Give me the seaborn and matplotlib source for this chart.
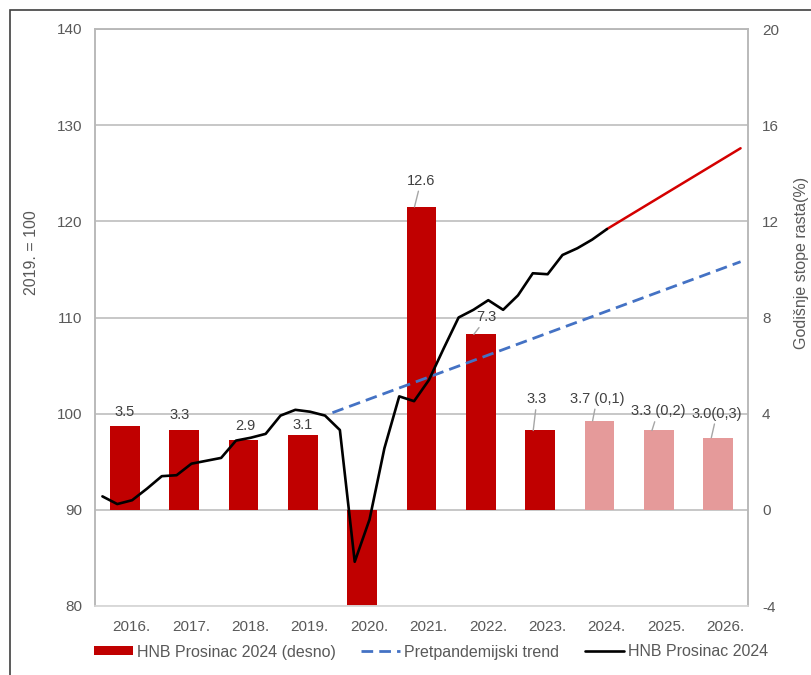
import matplotlib
matplotlib.use("Agg")
import matplotlib.pyplot as plt
from matplotlib.patches import Patch, Rectangle
from matplotlib.lines import Line2D
from matplotlib.ticker import FixedLocator
from matplotlib.transforms import ScaledTranslation
import seaborn as sns
import pandas as pd
import numpy as np

# ---------------- data ----------------
years = ["2016.", "2017.", "2018.", "2019.", "2020.", "2021.",
         "2022.", "2023.", "2024.", "2025.", "2026."]
growth = [3.5, 3.3, 2.9, 3.1, -8.5, 12.6, 7.3, 3.3, 3.7, 3.3, 3.0]
is_forecast = [False] * 8 + [True] * 3
bar_labels = ["3.5", "3.3", "2.9", "3.1", "", "12.6", "7.3", "3.3",
              "3.7 (0,1)", "3.3 (0,2)", "3.0(0,3)"]

# quarterly index (2019 = 100), 2016Q1 .. 2024Q3
index_quarters = [f"{y}Q{q}" for y in range(2016, 2025) for q in range(1, 5)][:35]
index_vals = [91.4, 90.6, 91.0, 92.2,
              93.5, 93.6, 94.8, 95.1,
              95.4, 97.2, 97.5, 97.9,
              99.8, 100.4, 100.2, 99.8,
              98.3, 84.6, 89.0, 96.4,
              101.8, 101.3, 103.5, 106.8,
              110.0, 110.8, 111.8, 110.8,
              112.3, 114.6, 114.5, 116.5,
              117.2, 118.1, 119.2]

# projection (red), from 2024Q3 to 2026Q4
proj_quarters = ["2024Q3", "2026Q4"]
proj_vals = [119.2, 127.6]

# pre-pandemic trend, from end of 2019 to 2026Q4
trend_quarters = ["2019Q4.5", "2026Q4"]
trend_vals = [100.1, 115.8]

legend_labels = ["HNB Prosinac 2024 (desno)", "Pretpandemijski trend", "HNB Prosinac 2024"]

# ---------------- helpers ----------------
def qpos(label):
    y, q = label.split("Q")
    return (int(y) - 2016) - 0.5 + (float(q) - 0.5) / 4.0

# ---------------- style ----------------
sns.set_theme(style="white")
plt.rcParams["font.family"] = ["Liberation Sans", "DejaVu Sans"]
plt.rcParams["axes.unicode_minus"] = False
TXT = "#595959"
GRID = "#b8b8b8"
RED = "#C00000"
PINK = "#E59A9A"

W, H = 812, 675
fig = plt.figure(figsize=(W / 100, H / 100), dpi=100)
L, R, T, B = 95, 748, 29, 606
ax = fig.add_axes([L / W, 1 - B / H, (R - L) / W, (B - T) / H])
ax2 = ax.twinx()

# bars on the right axis
bar_df = pd.DataFrame({"year": years, "growth": growth})
colors = [PINK if f else RED for f in is_forecast]
sns.barplot(data=bar_df, x="year", y="growth", hue="year", palette=colors,
            width=0.5, saturation=1, linewidth=0, legend=False, ax=ax2)

# lines on the left axis, drawn above bars
ax.set_zorder(ax2.get_zorder() + 1)
ax.patch.set_visible(False)

idx_df = pd.DataFrame({"x": [qpos(q) for q in index_quarters], "y": index_vals})
proj_df = pd.DataFrame({"x": [qpos(q) for q in proj_quarters], "y": proj_vals})
tr_df = pd.DataFrame({"x": [qpos(q) for q in trend_quarters], "y": trend_vals})

sns.lineplot(data=tr_df, x="x", y="y", ax=ax, color="#4472C4", lw=2.0,
             dashes=False, sort=False)
ax.lines[-1].set_dashes((4.2, 2.2))
sns.lineplot(data=proj_df, x="x", y="y", ax=ax, color="#D40000", lw=1.8, sort=False)
sns.lineplot(data=idx_df, x="x", y="y", ax=ax, color="black", lw=1.9, sort=False)

# axes limits / ticks
ax.set_xlim(-0.5, 10.5)
ax.set_ylim(80, 140)
ax2.set_ylim(-4, 20)
ax.set_yticks([80, 90, 100, 110, 120, 130, 140])
ax2.set_yticks([-4, 0, 4, 8, 12, 16, 20])
ax.xaxis.set_major_locator(FixedLocator(list(range(len(years)))))
ax.set_xticklabels(years)
ax.xaxis.set_minor_locator(FixedLocator([i - 0.5 for i in range(len(years) + 1)]))
ax.set_xlabel("")
ax.set_ylabel("")
ax2.set_xlabel("")
ax2.set_ylabel("")

for a in (ax, ax2):
    a.tick_params(axis="both", which="both", length=0, labelsize=11, labelcolor=TXT)
ax.tick_params(axis="y", pad=9)
ax2.tick_params(axis="y", pad=10)
ax.tick_params(axis="x", pad=10)

# x labels sit slightly right of the category centres in the original
shift = ScaledTranslation(7 / 100, 0, fig.dpi_scale_trans)
for lbl in ax.get_xticklabels():
    lbl.set_transform(lbl.get_transform() + shift)

# grid behind bars
ax.grid(False)
ax2.set_axisbelow(True)
ax2.grid(axis="y", which="major", color=GRID, lw=1.1)
ax2.grid(axis="x", which="minor", color=GRID, lw=1.1)
ax2.grid(axis="x", which="major", visible=False)

for a in (ax, ax2):
    for s in a.spines.values():
        s.set_color(GRID)
        s.set_linewidth(1.1)
    a.spines["bottom"].set_color("#d9d9d9")

# bar value labels
label_offsets = {0: (0, 14), 1: (-4, 15), 2: (2, 14), 3: (0, 10)}
leader_offsets = {5: (6.5, 26), 6: (13, 17), 7: (3.7, 31), 8: (4.3, 22),
                  9: (6, 19), 10: (5.5, 24)}
for i, (v, lab) in enumerate(zip(growth, bar_labels)):
    if not lab:
        continue
    if i in label_offsets:
        dx, dy = label_offsets[i]
        ax2.annotate(lab, xy=(i, v), xytext=(dx, dy), textcoords="offset pixels",
                     ha="center", va="center", fontsize=10.5, color="#404040")
    else:
        dx, dy = leader_offsets[i]
        ax2.annotate(lab, xy=(i - 0.118, v), xytext=(dx, dy), textcoords="offset pixels",
                     ha="center", va="center", fontsize=10.5, color="#404040",
                     arrowprops=dict(arrowstyle="-", color="#a6a6a6", lw=1.0,
                                     shrinkA=0, shrinkB=0))

# axis titles
fig.text(32 / W, 1 - 253 / H, "2019. = 100", rotation=90, ha="center", va="center",
         fontsize=11.5, color=TXT)
fig.text(802 / W, 1 - 263 / H, "Godišnje stope rasta(%)", rotation=90, ha="center",
         va="center", fontsize=11.5, color=TXT)

# legend
handles = [Patch(facecolor=RED, edgecolor="none"),
           Line2D([], [], color="#4472C4", lw=2.0, dashes=(4.2, 2.2)),
           Line2D([], [], color="black", lw=1.9)]
leg = fig.legend(handles, legend_labels, loc="center", bbox_to_anchor=(431 / W, 1 - 652 / H),
                 ncol=3, frameon=False, fontsize=11.5, handlelength=2.45, handleheight=0.5,
                 handletextpad=0.25, columnspacing=1.6, borderaxespad=0)
for t in leg.get_texts():
    t.set_color(TXT)

# outer frame (top and left edges visible)
fig.add_artist(Rectangle((10 / W, -0.1), 1.2, (1 - 10 / H) + 0.1, transform=fig.transFigure,
                         fill=False, edgecolor="#404040", lw=1.2))

fig.savefig("out.png", dpi=100)
